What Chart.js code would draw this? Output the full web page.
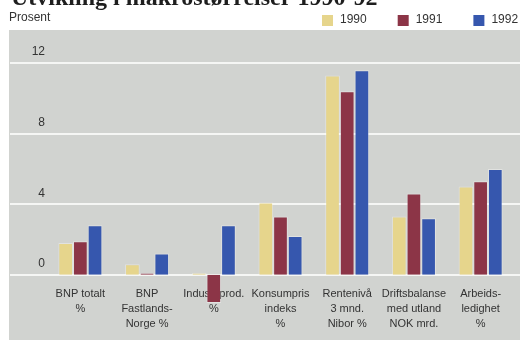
<!DOCTYPE html>
<html>
<head>
<meta charset="utf-8">
<script src="https://cdn.jsdelivr.net/npm/chart.js@4"></script>
<style>
html, body { margin: 0; padding: 0; background: #fff; }
#wrap { width: 520px; height: 340px; }
</style>
</head>
<body>
<div id="wrap"><canvas id="chart" width="520" height="340"></canvas></div>
<script>
// Makroøkonomiske nøkkeltall 1990-92
const title = 'Utvikling i makrostørrelser 1990-92';
const unitLabel = 'Prosent';
const categories = [
    ['BNP totalt', '%'],
    ['BNP', 'Fastlands-', 'Norge %'],
    ['Industriprod.', '%'],
    ['Konsumpris', 'indeks', '%'],
    ['Rentenivå', '3 mnd.', 'Nibor %'],
    ['Driftsbalanse', 'med utland', 'NOK mrd.'],
    ['Arbeids-', 'ledighet', '%']
];
const years = ['1990', '1991', '1992'];
const values1990 = [1.8, 0.6, 0.1, 4.1, 11.3, 3.3, 5.0];
const values1991 = [1.9, 0.1, -1.6, 3.3, 10.4, 4.6, 5.3];
const values1992 = [2.8, 1.2, 2.8, 2.2, 11.6, 3.2, 6.0];
const yTicks = [0, 4, 8, 12];

const colors = ['#e6d58c', '#8c3547', '#3657ae'];
const fontFamily = '"Liberation Sans", Arial, sans-serif';

// grå bakgrunn, hvite hjelpelinjer, tittel og forklaring
const decor = {
    id: 'decor',
    beforeDraw(c) {
        const ctx = c.ctx;
        const y = c.scales.y;
        ctx.save();
        ctx.fillStyle = '#d1d3d0';
        ctx.fillRect(9, c.chartArea.top, c.width - 9, c.height - c.chartArea.top);
        ctx.strokeStyle = '#f5f6f4';
        ctx.lineWidth = 2;
        y.ticks.forEach(t => {
            const py = Math.round(y.getPixelForValue(t.value));
            ctx.beginPath();
            ctx.moveTo(10, py);
            ctx.lineTo(c.width, py);
            ctx.stroke();
        });
        ctx.restore();
    },
    afterDraw(c) {
        const ctx = c.ctx;
        ctx.save();
        ctx.fillStyle = '#1e1e1e';
        ctx.font = 'bold 24px "Liberation Serif", "DejaVu Serif", serif';
        ctx.textBaseline = 'alphabetic';
        ctx.fillText(title, 11, 5);

        ctx.fillStyle = '#333';
        ctx.font = '12px ' + fontFamily;
        ctx.textBaseline = 'middle';
        ctx.fillText(unitLabel, 9, 18);

        let x = 322;
        c.data.datasets.forEach(ds => {
            ctx.fillStyle = ds.backgroundColor;
            ctx.fillRect(x, 15, 11, 11);
            ctx.fillStyle = '#333';
            ctx.fillText(ds.label, x + 18, 20);
            x += 18 + ctx.measureText(ds.label).width + 31;
        });
        ctx.restore();
    }
};

const series = [values1990, values1991, values1992];

new Chart(document.getElementById('chart'), {
    type: 'bar',
    data: {
        labels: categories,
        datasets: years.map((yr, i) => ({
            label: yr,
            data: series[i],
            backgroundColor: colors[i],
            borderColor: 'rgba(255,255,255,0.35)',
            borderWidth: 1,
            barPercentage: 1,
            categoryPercentage: 0.66
        }))
    },
    options: {
        responsive: false,
        animation: false,
        layout: { padding: { top: 30, left: 9, right: 6, bottom: 0 } },
        plugins: {
            legend: { display: false },
            tooltip: { enabled: false }
        },
        scales: {
            x: {
                position: { y: 0 },
                afterFit: s => { s.height = 0; },
                grid: { display: false, drawTicks: false },
                border: { display: false },
                ticks: {
                    color: '#333',
                    font: { family: fontFamily, size: 11, lineHeight: 1.36 },
                    padding: 12,
                    maxRotation: 0,
                    autoSkip: false
                }
            },
            y: {
                min: -3.18,
                max: 13.88,
                afterBuildTicks: s => { s.ticks = yTicks.map(v => ({ value: v })); },
                afterFit: s => { s.width = 38; },
                grid: { display: false, drawTicks: false },
                border: { display: false },
                ticks: {
                    color: '#333',
                    font: { family: fontFamily, size: 12 },
                    padding: 2,
                    labelOffset: -11
                }
            }
        }
    },
    plugins: [decor]
});
</script>
</body>
</html>
